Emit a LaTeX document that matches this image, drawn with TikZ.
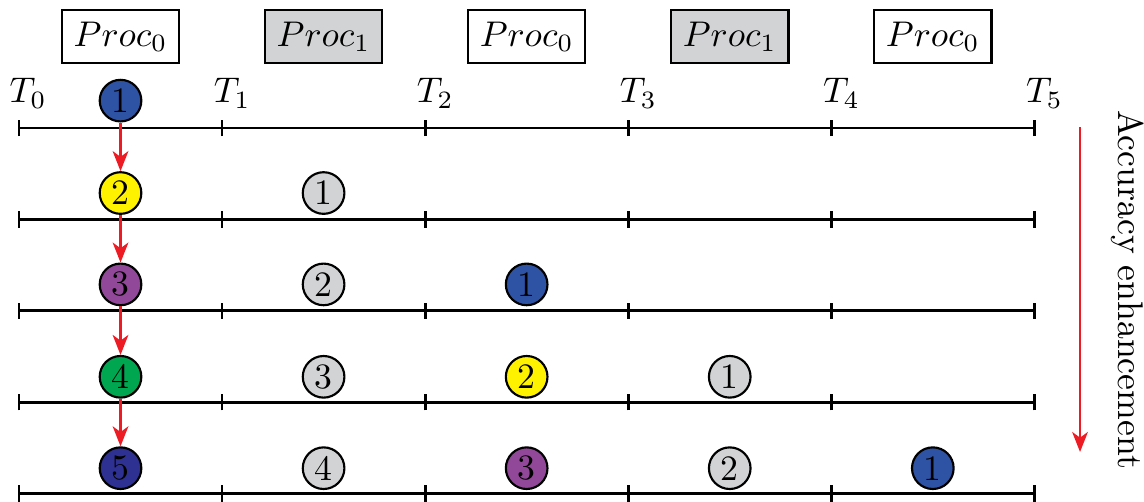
\documentclass[tikz,border=0pt]{standalone}
\usepackage{amsmath}
\usepackage{amssymb}
\usetikzlibrary{arrows.meta}

\definecolor{procgray}{RGB}{209,211,212}
\definecolor{stepblue}{RGB}{46,82,164}
\definecolor{stepyellow}{RGB}{255,242,0}
\definecolor{steppurple}{RGB}{146,72,152}
\definecolor{stepgreen}{RGB}{0,166,80}
\definecolor{stepnavy}{RGB}{46,49,146}
\definecolor{arrowred}{RGB}{237,28,36}

\begin{document}
\begin{tikzpicture}[>={Stealth[length=5.6pt,width=4.4pt,inset=1.6pt]}]
            \useasboundingbox (-0.187,-3.675) rectangle (11.08,1.261);
            % time lines with ticks
            \foreach \y in {0,-0.9,-1.8,-2.7,-3.6} {
                \draw[line width=0.8pt] (0,\y) -- (10,\y);
                \foreach \x in {0,2,...,10}
                    \draw[line width=0.8pt] (\x,\y-0.08) -- (\x,\y+0.08);
            }
            \begin{scope}[every node/.style={anchor=base}]
                \node (t0) at (0.09,0.25) {$T_0$};
                \node (t1) at (2.1,0.25) {$T_1$};
                \node (t2) at (4.1,0.25) {$T_2$};
                \node (t3) at (6.1,0.25) {$T_3$};
                \node (t4) at (8.1,0.25) {$T_4$};
                \node (t5) at (10.1,0.25) {$T_5$};
            \end{scope}
            \begin{scope}[every node/.style={draw=black,line width=0.6pt,minimum width=1.14cm,minimum height=0.51cm}]
                \node (p0) at (1,0.9) {$Proc_0$};
                \node[fill=procgray] (p1) at (3,0.9) {$Proc_1$};
                \node (p2) at (5,0.9) {$Proc_0$};
                \node[fill=procgray] (p3) at (7,0.9) {$Proc_1$};
                \node (p4) at (9,0.9) {$Proc_0$};
            \end{scope}
            \begin{scope}[every node/.style={circle,draw=black,line width=0.6pt,minimum size=0.41cm,inner sep=0pt}]
                \node[fill=stepblue] (c11) at (1,0.27) {1};
                \node[fill=stepyellow] (c21) at (1,-0.64) {2};
                \node[fill=procgray] (c22) at (3,-0.64) {1};
                \node[fill=steppurple] (c31) at (1,-1.54) {3};
                \node[fill=procgray] (c32) at (3,-1.54) {2};
                \node[fill=stepblue] (c33) at (5,-1.54) {1};
                \node[fill=stepgreen] (c41) at (1,-2.45) {4};
                \node[fill=procgray] (c42) at (3,-2.45) {3};
                \node[fill=stepyellow] (c43) at (5,-2.45) {2};
                \node[fill=procgray] (c44) at (7,-2.45) {1};
                \node[fill=stepnavy] (c51) at (1,-3.35) {5};
                \node[fill=procgray] (c52) at (3,-3.35) {4};
                \node[fill=steppurple] (c53) at (5,-3.35) {3};
                \node[fill=procgray] (c54) at (7,-3.35) {2};
                \node[fill=stepblue] (c55) at (9,-3.35) {1};
            \end{scope}
            \draw (c11) edge [->, arrowred, line width=0.6pt] (c21);
            \draw (c21) edge [->, arrowred, line width=0.6pt] (c31);
            \draw (c31) edge [->, arrowred, line width=0.6pt] (c41);
            \draw (c41) edge [->, arrowred, line width=0.6pt] (c51);
            \coordinate (accstart) at (10.45,0.01);
            \coordinate (accend) at (10.45,-3.19);
            \draw (accstart) edge [->, arrowred, line width=0.6pt] (accend);
            \node[rotate=-90] (acc) at (10.92,-1.59) {Accuracy enhancement};
        \end{tikzpicture}
\end{document}
